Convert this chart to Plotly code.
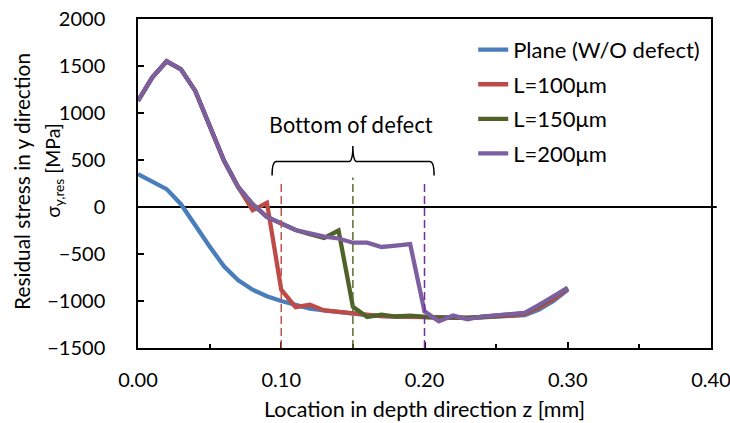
import plotly.graph_objects as go

depth_mm = [0.00, 0.01, 0.02, 0.03, 0.04, 0.05, 0.06, 0.07, 0.08, 0.09, 0.10,
            0.11, 0.12, 0.13, 0.14, 0.15, 0.16, 0.17, 0.18, 0.19, 0.20,
            0.21, 0.22, 0.23, 0.24, 0.25, 0.26, 0.27, 0.28, 0.29, 0.30]

plane = [350, 275, 190, 30, -200, -420, -630, -780, -880, -950, -1000,
         -1040, -1080, -1100, -1120, -1135, -1150, -1160, -1165, -1170, -1175,
         -1180, -1180, -1180, -1175, -1170, -1165, -1150, -1090, -1000, -880]

l100 = [1130, 1380, 1550, 1465, 1235, 870, 495, 210, -35, 45, -880,
        -1065, -1040, -1100, -1115, -1130, -1150, -1160, -1165, -1170, -1175,
        -1180, -1175, -1180, -1170, -1165, -1155, -1140, -1070, -980, -870]

l150 = [1130, 1380, 1550, 1465, 1235, 870, 495, 210, 30, -105, -175,
        -245, -290, -330, -250, -1060, -1170, -1145, -1165, -1155, -1170,
        -1180, -1175, -1180, -1170, -1160, -1150, -1130, -1050, -960, -860]

l200 = [1130, 1380, 1550, 1465, 1235, 870, 495, 210, 30, -105, -175,
        -245, -280, -315, -335, -380, -380, -425, -410, -395, -1110,
        -1215, -1155, -1195, -1165, -1155, -1148, -1127, -1040, -950, -860]

series_names = ["Plane (W/O defect)", "L=100μm", "L=150μm", "L=200μm"]
series_values = [plane, l100, l150, l200]
series_colors = ["#4a7ebb", "#be4b48", "#4f6228", "#7d5fa0"]

defect_depths = [0.10, 0.15, 0.20]
defect_line_tops = [290, 315, 265]
defect_colors = ["#c0504d", "#5a6e2e", "#7030a0"]

FONT = "Lato"

fig = go.Figure()
for i, (name, vals, col) in enumerate(zip(series_names, series_values, series_colors)):
    fig.add_trace(go.Scatter(x=depth_mm, y=vals, mode="lines", name=name,
                             legendgroup=str(i),
                             line=dict(color=col, width=4.3)))

# zero line (horizontal axis crossing)
fig.add_shape(type="line", xref="paper", yref="y", x0=0, x1=1.01, y0=0, y1=0,
              line=dict(color="black", width=2), layer="below")

# defect bottom dashed lines
for d, top, col in zip(defect_depths, defect_line_tops, defect_colors):
    fig.add_shape(type="line", xref="x", yref="y", x0=d, x1=d, y0=-1500, y1=top,
                  line=dict(color=col, width=1.5, dash="8px,4px"))

# curly brace
fig.add_shape(type="path", xref="x", yref="y",
              path=("M 0.0936,335 Q 0.0936,483 0.0966,483 L 0.147,483 "
                    "Q 0.150,483 0.150,650 Q 0.150,483 0.153,483 "
                    "L 0.2037,483 Q 0.2067,483 0.2067,335"),
              line=dict(color="black", width=1.5))

fig.add_annotation(x=0.1488, y=885, xref="x", yref="y", text="Bottom of defect",
                   showarrow=False, font=dict(family="Noto Sans CJK JP", size=21, color="black"),
                   xanchor="center", yanchor="middle")

# y-axis title lines
fig.add_annotation(x=-0.2024, y=0.505, xref="paper", yref="paper",
                   text="Residual stress in y direction", textangle=-90,
                   showarrow=False, font=dict(family=FONT, size=20.8, color="black"),
                   xanchor="center", yanchor="middle")
fig.add_annotation(x=-0.148, y=0.539, xref="paper", yref="paper",
                   text="σ<sub>y,res</sub> [MPa]", textangle=-90,
                   showarrow=False, font=dict(family=FONT, size=19.5, color="black"),
                   xanchor="center", yanchor="middle")

fig.update_layout(
    width=730, height=423,
    margin=dict(l=138, r=19, t=19, b=75),
    paper_bgcolor="white", plot_bgcolor="white",
    font=dict(family=FONT, size=20, color="black"),
    showlegend=True,
    legend=dict(x=0.585, y=0.97, xanchor="left", yanchor="top",
                bgcolor="rgba(0,0,0,0)", font=dict(family=FONT, size=22, color="black"),
                traceorder="grouped", tracegroupgap=3),
    xaxis=dict(range=[0, 0.4], tick0=0, dtick=0.1, tickformat=".2f", automargin=False,
               ticks="inside", ticklen=6, tickcolor="black", tickwidth=1.5,
               minor=dict(dtick=0.05, ticks="inside", ticklen=4, tickcolor="black", tickwidth=1.5),
               showline=True, linecolor="black", linewidth=1.5, mirror=True,
               showgrid=False, zeroline=False, ticklabelstandoff=13,
               ticklabeloverflow="allow",
               tickfont=dict(family=FONT, size=20, color="black"),
               title=dict(text="Location in depth direction z [mm]",
                          font=dict(family=FONT, size=21.5, color="black"), standoff=12)),
    yaxis=dict(range=[-1500, 2000], tick0=-1500, dtick=500, automargin=False,
               ticks="inside", ticklen=6, tickcolor="black", tickwidth=1.5,
               showline=True, linecolor="black", linewidth=1.5, mirror=True,
               ticklabeloverflow="allow",
               tickfont=dict(family=FONT, size=20, color="black"),
               showgrid=False, zeroline=False, ticklabelstandoff=27),
)

fig.write_html("out.html", config={"displayModeBar": False},
               post_script="document.body.style.margin='0';")
